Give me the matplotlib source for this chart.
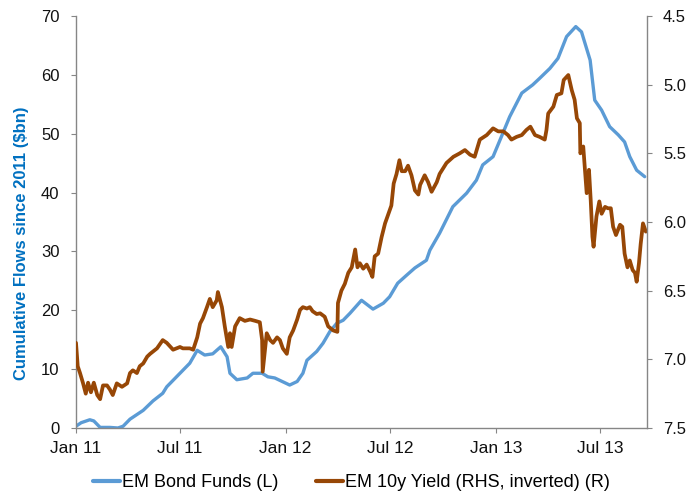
import numpy as np
import matplotlib
matplotlib.use("Agg")
import matplotlib.pyplot as plt

plt.rcParams['font.family'] = ['Liberation Sans', 'DejaVu Sans']

# ---- data (day offsets from 2011-01-01) ----
base_date = np.datetime64('2011-01-01')

bond_day = [0, 9, 24, 31, 42, 59, 73, 82, 94, 117, 134, 151, 158, 181, 198, 211, 224, 238,
            252, 263, 268, 280, 298, 308, 324, 334, 346, 359, 372, 385, 395, 402, 419, 430,
            442, 454, 465, 477, 497, 517, 535, 546, 560, 576, 590, 610, 616, 633, 656, 680,
            697, 708, 726, 738, 755, 776, 795, 807, 825, 839, 854, 870, 880, 895, 903, 915,
            929, 944, 955, 964, 976, 990]
bond_flow = [0.3, 0.9, 1.4, 1.2, 0.1, 0.1, 0.0, 0.3, 1.5, 3.0, 4.6, 5.9, 7.0, 9.3, 11.0, 13.2,
             12.4, 12.6, 13.8, 12.1, 9.3, 8.2, 8.5, 9.3, 9.3, 8.7, 8.5, 7.9, 7.3, 7.9, 9.3, 11.5,
             13.0, 14.4, 16.4, 17.8, 18.3, 19.5, 21.7, 20.2, 21.2, 22.3, 24.6, 26.0, 27.2, 28.5,
             30.2, 33.1, 37.6, 39.9, 42.1, 44.7, 46.1, 48.9, 52.9, 56.9, 58.3, 59.4, 61.1, 62.8,
             66.5, 68.2, 67.3, 62.5, 55.7, 54.0, 51.2, 49.8, 48.6, 46.1, 43.8, 42.7]

yld_day = [0, 3, 7, 12, 17, 21, 26, 31, 37, 42, 47, 54, 59, 64, 71, 80, 89, 94, 99, 106, 111,
           117, 124, 129, 141, 151, 158, 169, 181, 186, 198, 204, 211, 216, 221, 228, 233, 238,
           245, 247, 254, 259, 265, 268, 271, 277, 285, 294, 303, 312, 320, 324, 325, 329, 332,
           338, 343, 350, 355, 360, 367, 372, 378, 385, 390, 395, 402, 407, 412, 419, 425, 433,
           439, 448, 455, 456, 462, 468, 474, 480, 486, 490, 494, 500, 506, 512, 516, 520, 526,
           532, 538, 544, 549, 553, 558, 563, 567, 573, 578, 584, 590, 596, 599, 607, 613, 619,
           628, 633, 645, 657, 668, 677, 686, 694, 703, 715, 726, 735, 744, 752, 758, 767, 776,
           784, 791, 799, 807, 816, 819, 822, 831, 837, 845, 849, 857, 863, 868, 872, 877, 878,
           883, 886, 889, 893, 896, 899, 901, 906, 911, 915, 921, 926, 931, 935, 940, 947, 951,
           955, 960, 964, 969, 973, 976, 980, 983, 987, 992]
yld_val = [6.88, 7.05, 7.10, 7.17, 7.25, 7.17, 7.24, 7.17, 7.26, 7.29, 7.19, 7.19, 7.22, 7.26,
           7.175, 7.20, 7.175, 7.10, 7.08, 7.10, 7.05, 7.03, 6.98, 6.96, 6.92, 6.86, 6.88, 6.93,
           6.91, 6.92, 6.92, 6.93, 6.84, 6.74, 6.70, 6.62, 6.56, 6.62, 6.57, 6.51, 6.62, 6.76,
           6.91, 6.81, 6.91, 6.76, 6.70, 6.72, 6.71, 6.72, 6.73, 6.86, 7.09, 6.93, 6.81, 6.86,
           6.88, 6.84, 6.86, 6.92, 6.96, 6.84, 6.79, 6.71, 6.64, 6.62, 6.63, 6.62, 6.65, 6.67,
           6.665, 6.69, 6.76, 6.79, 6.80, 6.59, 6.50, 6.45, 6.37, 6.33, 6.20, 6.33, 6.30, 6.34,
           6.31, 6.36, 6.40, 6.25, 6.23, 6.11, 6.01, 5.94, 5.88, 5.72, 5.65, 5.55, 5.63, 5.63,
           5.59, 5.66, 5.77, 5.80, 5.73, 5.66, 5.71, 5.78, 5.71, 5.65, 5.57, 5.525, 5.50, 5.476,
           5.51, 5.525, 5.40, 5.367, 5.318, 5.34, 5.34, 5.367, 5.40, 5.38, 5.367, 5.33, 5.306,
           5.367, 5.38, 5.40, 5.33, 5.21, 5.16, 5.075, 5.063, 4.966, 4.93, 5.04, 5.11, 5.245,
           5.28, 5.50, 5.45, 5.62, 5.79, 5.62, 5.84, 6.107, 6.18, 5.96, 5.85, 5.94, 5.89, 5.90,
           5.90, 6.035, 6.095, 6.02, 6.035, 6.23, 6.33, 6.28, 6.35, 6.37, 6.435, 6.30, 6.16,
           6.01, 6.07]

tick_dates = ['2011-01-01', '2011-07-01', '2012-01-01', '2012-07-01', '2013-01-01', '2013-07-01']
tick_labels = ['Jan 11', 'Jul 11', 'Jan 12', 'Jul 12', 'Jan 13', 'Jul 13']
left_ticks = [0, 10, 20, 30, 40, 50, 60, 70]
right_ticks = [4.5, 5.0, 5.5, 6.0, 6.5, 7.0, 7.5]
right_labels = ['4.5', '5.0', '5.5', '6.0', '6.5', '7.0', '7.5']

# ---- styles ----
BLUE = '#5B9BD5'
BROWN = '#974706'
LABEL_BLUE = '#0070C0'
SPINE = '#868686'

W, H = 693, 496
fig = plt.figure(figsize=(W / 100, H / 100), dpi=100)
ax = fig.add_axes([76 / W, 1 - 428 / H, (647 - 76) / W, (428 - 16) / H])
ax2 = ax.twinx()

bond_x = base_date + np.array(bond_day).astype('timedelta64[D]')
yld_x = base_date + np.array(yld_day).astype('timedelta64[D]')

l1, = ax.plot(bond_x, bond_flow, color=BLUE, lw=2.4, solid_capstyle='round',
              solid_joinstyle='round', label='EM Bond Funds (L)')
l2, = ax2.plot(yld_x, yld_val, color=BROWN, lw=2.7, solid_capstyle='round',
               solid_joinstyle='round', label='EM 10y Yield (RHS, inverted) (R)')

xmin = base_date
xmax = base_date + np.timedelta64(994, 'D')
ax.set_xlim(xmin, xmax)
ax.set_ylim(0, 70)
ax2.set_ylim(7.5, 4.5)

ax.set_xticks([np.datetime64(d) for d in tick_dates])
ax.set_xticklabels(tick_labels)
ax.set_yticks(left_ticks)
ax.set_yticklabels([str(v) for v in left_ticks])
ax2.set_yticks(right_ticks)
ax2.set_yticklabels(right_labels)

for a in (ax, ax2):
    a.spines['top'].set_visible(False)
    for s in ('left', 'right', 'bottom'):
        a.spines[s].set_color(SPINE)
        a.spines[s].set_linewidth(1.0)
ax.spines['right'].set_visible(False)
ax2.spines['left'].set_visible(False)
ax2.spines['bottom'].set_visible(False)

ax.tick_params(axis='y', direction='out', length=3.6, width=0.8, color=SPINE,
               labelsize=12, pad=8.2, labelcolor='#111111')
ax.tick_params(axis='x', direction='out', length=3.6, width=0.8, color=SPINE,
               labelsize=12.5, pad=5.5, labelcolor='#111111')
ax2.tick_params(axis='y', direction='out', length=3.6, width=0.8, color=SPINE,
                labelsize=12, pad=8.0, labelcolor='#111111')

fig.text(22 / W, 1 - 243 / H, 'Cumulative Flows since 2011 ($bn)', rotation=90,
         ha='center', va='center', fontsize=12, fontweight='bold', color=LABEL_BLUE)

leg = fig.legend(handles=[l1, l2], loc='center', bbox_to_anchor=(351.5 / W, 1 - 482.5 / H),
                 ncol=2, frameon=False, fontsize=13, handlelength=1.5, handletextpad=0.12,
                 columnspacing=2.1, borderpad=0, borderaxespad=0)
for h in leg.get_lines():
    h.set_linewidth(3)

fig.savefig('out.png', dpi=100)
